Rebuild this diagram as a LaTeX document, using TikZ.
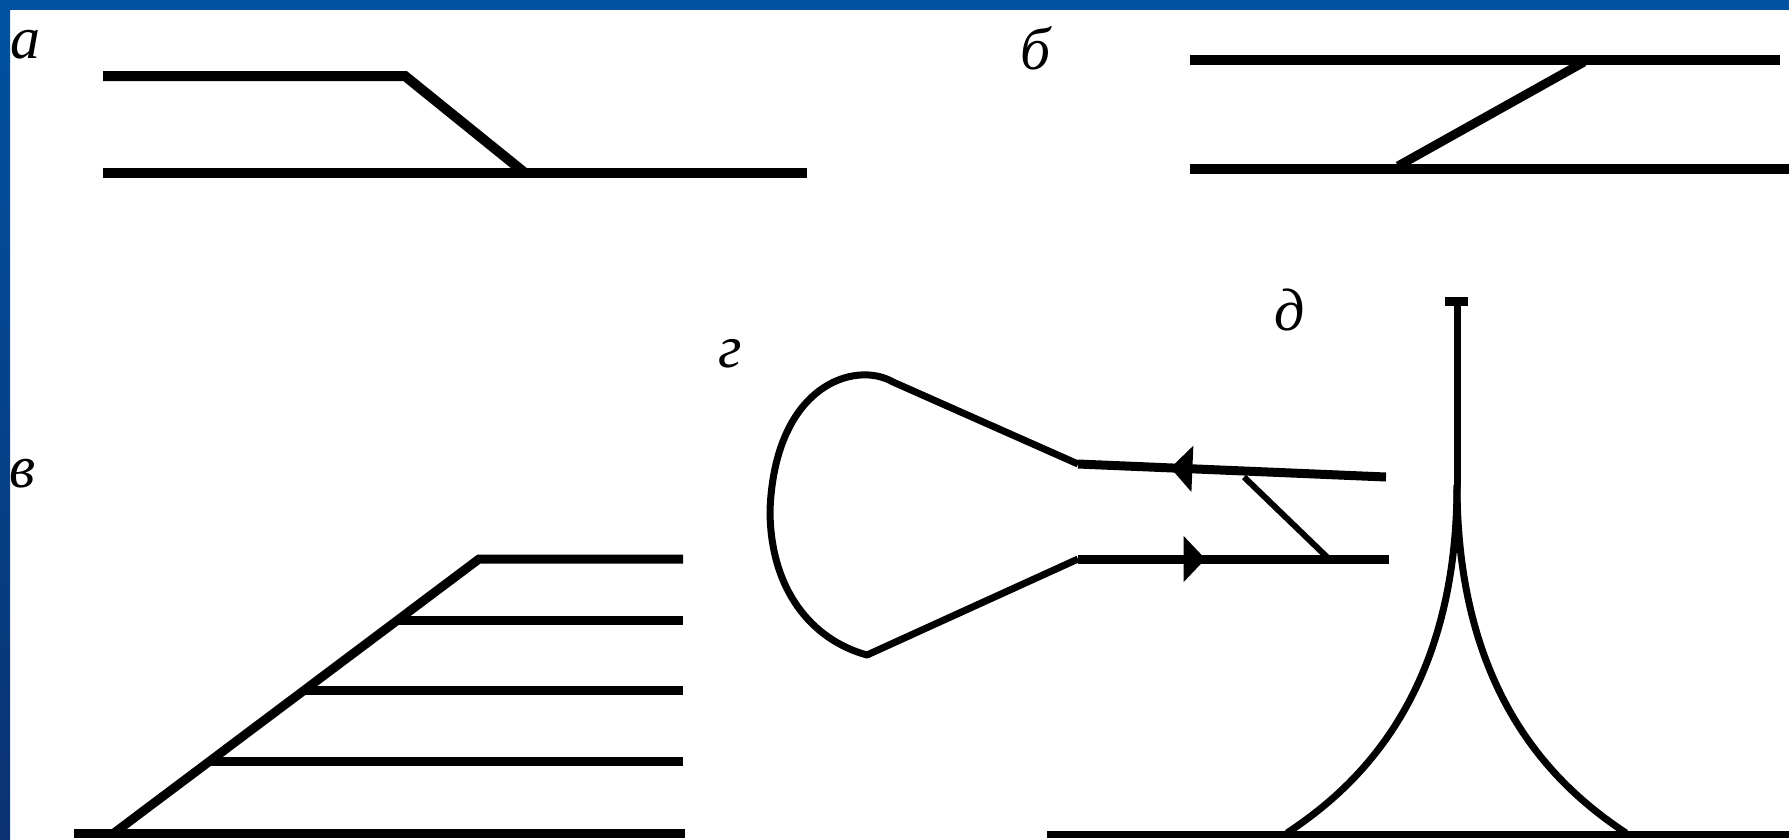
\documentclass[tikz,border=0pt]{standalone}
\usepackage{fontspec}
\setmainfont{Liberation Serif}
\usetikzlibrary{arrows.meta,decorations.markings}
\definecolor{frameblue}{RGB}{0,82,160}
\definecolor{framedark}{RGB}{10,50,115}
\begin{document}
\begin{tikzpicture}[x=1pt,y=-1pt,
  rail/.style={line width=10pt},
  railmid/.style={line width=9pt},
  railthin/.style={line width=7pt},
  loopline/.style={line width=7pt, line join=round},
  linkthin/.style={line width=6pt},
  lbl/.style={font=\fontsize{60}{60}\selectfont\itshape, inner sep=0pt},
  fwdarrow/.style={postaction={decorate}, decoration={markings,
     mark=at position #1 with {\arrow{Triangle[length=22pt,width=45pt]}}}},
  backarrow/.style={postaction={decorate}, decoration={markings,
     mark=at position #1 with {\arrowreversed{Triangle[length=22pt,width=45pt]}}}}]
\useasboundingbox (0,0) rectangle (1789,839);
\fill[white] (0,0) rectangle (1789,839);
% frame
\fill[frameblue] (0,0) rectangle (1789,10);
\shade[top color=frameblue,bottom color=framedark] (0,0) rectangle (10,839);

% labels
\node[lbl] (la) at (25,45) {а};
\node[lbl] (lb) at (1036,48) {б};
\node[lbl] (lv) at (23,474) {в};
\node[lbl] (lg) at (730,354) {г};
\node[lbl] (ld) at (1290,310) {д};

% panel a
\coordinate (a1) at (103,76);
\coordinate (a2) at (405,76);
\coordinate (a3) at (525,173);
\coordinate (a4) at (103,173);
\coordinate (a5) at (807,173);
\draw[rail] (a1) -- (a2) -- (a3);
\draw[rail] (a4) -- (a5);

% panel b
\coordinate (b1) at (1190,60);
\coordinate (b2) at (1780,60);
\coordinate (b3) at (1190,169);
\coordinate (b4) at (1789,169);
\coordinate (b5) at (1398,166);
\coordinate (b6) at (1584,62);
\draw[rail] (b1) -- (b2);
\draw[rail] (b3) -- (b4);
\draw[railmid] (b5) -- (b6);

% panel v
\coordinate (v0) at (114,833);
\coordinate (v4) at (479,559);
\coordinate (v3) at (399,620);
\coordinate (v2) at (304,690);
\coordinate (v1) at (210,761);
\coordinate (vb) at (74,833);
\coordinate (vbe) at (685,833);
\draw[railmid] (v0) -- (v4) -- (683,559);
\draw[railmid] (v3) -- (683,620);
\draw[railmid] (v2) -- (683,690);
\draw[railmid] (v1) -- (683,761);
\draw[railmid] (vb) -- (vbe);

% panel g
\coordinate (g1) at (1078,464);
\coordinate (g2) at (1078,559);
\coordinate (g3) at (1386,477);
\coordinate (g4) at (1389,559);
\coordinate (g5) at (1244,477);
\coordinate (g6) at (1329,559);
\draw[loopline] (g1) -- (893,382)
   .. controls (855,360) and (775,385) .. (770,510)
   .. controls (770,590) and (812,640) .. (867,655) -- (g2);
\draw[railmid, backarrow=0.30] (g1) -- (g3);
\draw[railmid, fwdarrow=0.41] (g2) -- (g4);
\draw[linkthin] (g5) -- (g6);

% panel d
\coordinate (d0) at (1457,485);
\coordinate (dtop) at (1457,303);
\coordinate (dl) at (1287,833);
\coordinate (dr) at (1626,833);
\draw[line width=9pt] (1445,301) -- (1468,301);
\draw[railthin] (dtop) -- (d0);
\draw[railthin] (d0) .. controls (1457,700) and (1352,790) .. (dl);
\draw[railthin] (d0) .. controls (1457,700) and (1561,790) .. (dr);
\draw[railthin] (1047,834) -- (1789,834);
\end{tikzpicture}
\end{document}
